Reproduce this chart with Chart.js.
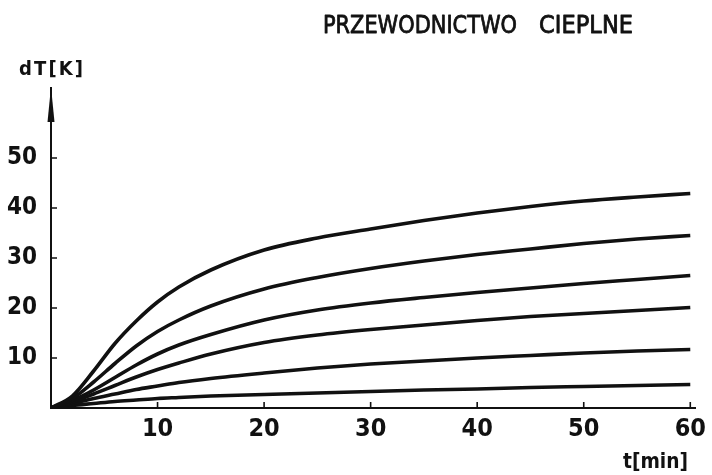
<!DOCTYPE html>
<html>
<head>
<meta charset="utf-8">
<title>Przewodnictwo cieplne</title>
<script src="https://cdn.jsdelivr.net/npm/chart.js@4.4.1/dist/chart.umd.min.js"></script>
<style>
  html, body { margin: 0; padding: 0; background: #fff; }
  canvas { display: block; }
</style>
</head>
<body>
<canvas id="chart" width="712" height="475"></canvas>
<script>
// time axis in minutes, temperature rise dT in K
var timeMin = [0, 2, 4, 6, 8, 10, 12, 15, 20, 25, 30, 35, 40, 45, 50, 55, 60];
var curveA = [0, 2.4, 7.4, 12.9, 17.4, 21.2, 24.2, 27.6, 31.6, 34.0, 35.8, 37.5, 39.0, 40.3, 41.4, 42.2, 42.9];
var curveB = [0, 1.9, 5.2, 8.9, 12.4, 15.3, 17.6, 20.4, 23.8, 26.1, 27.9, 29.4, 30.7, 31.8, 32.9, 33.8, 34.5];
var curveC = [0, 1.5, 3.6, 6.1, 8.6, 10.8, 12.6, 14.7, 17.6, 19.6, 21.0, 22.1, 23.1, 24.0, 24.9, 25.7, 26.5];
var curveD = [0, 1.2, 2.8, 4.5, 6.2, 7.7, 9.0, 10.8, 13.1, 14.6, 15.7, 16.6, 17.5, 18.3, 18.9, 19.5, 20.1];
var curveE = [0, 0.9, 1.9, 2.8, 3.7, 4.4, 5.1, 5.9, 7.0, 8.0, 8.8, 9.4, 10.0, 10.5, 11.0, 11.4, 11.7];
var curveF = [0, 0.5, 0.9, 1.3, 1.6, 1.9, 2.1, 2.4, 2.7, 3.0, 3.3, 3.6, 3.8, 4.1, 4.3, 4.5, 4.7];

var xTicks = [10, 20, 30, 40, 50, 60];
var yTicks = [10, 20, 30, 40, 50];

var ink = '#111';
var family = "'DejaVu Sans Condensed', 'DejaVu Sans', sans-serif";

function toPoints(values) {
	return values.map(function(v, i) { return {x: timeMin[i], y: v}; });
}

//fit a word into the given width: spread it out or squeeze it
function spacedText(ctx, text, left, base, width, thicken) {
	ctx.letterSpacing = '0px';
	var natural = ctx.measureText(text).width;
	var maxW = width;
	if(natural < width) {
		ctx.letterSpacing = ((width - natural) / (text.length - 1)) + 'px';
		maxW = undefined;
	}
	if(thicken) {
		ctx.lineWidth = thicken;
		ctx.lineJoin = 'round';
		maxW ? ctx.strokeText(text, left, base, maxW) : ctx.strokeText(text, left, base);
	}
	maxW ? ctx.fillText(text, left, base, maxW) : ctx.fillText(text, left, base);
	ctx.letterSpacing = '0px';
}

//ticks are drawn pointing into the plot, plus the arrow and lettering
var drawingExtras = {
	id: 'drawingExtras',
	afterDraw: function(chart) {
		var ctx = chart.ctx;
		var area = chart.chartArea;
		var x = chart.scales.x, y = chart.scales.y;
		ctx.save();
		ctx.strokeStyle = ink;
		ctx.fillStyle = ink;
		ctx.lineWidth = 1.6;
		ctx.beginPath();
		x.ticks.forEach(function(t) {
			var px = x.getPixelForValue(t.value);
			ctx.moveTo(px, area.bottom);
			ctx.lineTo(px, area.bottom - 6);
		});
		y.ticks.forEach(function(t) {
			var py = y.getPixelForValue(t.value);
			ctx.moveTo(area.left, py);
			ctx.lineTo(area.left + 6, py);
		});
		ctx.stroke();

		// arrow head on the dT axis
		ctx.beginPath();
		ctx.moveTo(area.left, area.top - 1);
		ctx.lineTo(area.left - 3.5, area.top + 34);
		ctx.lineTo(area.left + 3.5, area.top + 34);
		ctx.closePath();
		ctx.fill();

		ctx.textBaseline = 'alphabetic';
		ctx.textAlign = 'left';
		ctx.font = '25px ' + family;
		spacedText(ctx, 'PRZEWODNICTWO', 323, 33, 194, 0.8);
		spacedText(ctx, 'CIEPLNE', 539, 33, 94, 0.8);

		ctx.font = 'bold 20px ' + family;
		spacedText(ctx, 'dT[K]', 19, 75, 64);

		ctx.font = 'bold 22px ' + family;
		spacedText(ctx, 't[min]', 623, 468, 65);
		ctx.restore();
	}
};

var lineStyle = {
	borderColor: ink,
	borderWidth: 3.6,
	pointRadius: 0,
	fill: false,
	cubicInterpolationMode: 'monotone'
};

var curves = [curveA, curveB, curveC, curveD, curveE, curveF];

var chart = new Chart(document.getElementById('chart'), {
	type: 'line',
	data: {
		datasets: curves.map(function(c) {
			return Object.assign({data: toPoints(c)}, lineStyle);
		})
	},
	options: {
		responsive: false,
		animation: false,
		devicePixelRatio: 1,
		layout: {padding: {top: 88, right: 8, left: 0, bottom: 0}},
		plugins: {legend: {display: false}, tooltip: {enabled: false}},
		scales: {
			x: {
				type: 'linear',
				min: 0,
				max: 60.5,
				afterBuildTicks: function(s) { s.ticks = xTicks.map(function(v) { return {value: v}; }); },
				afterFit: function(s) { s.height = 67; },
				grid: {display: false, drawTicks: false},
				border: {display: true, color: ink, width: 2},
				ticks: {color: ink, padding: 6, maxRotation: 0, font: {family: family, size: 25, weight: 'bold'}}
			},
			y: {
				min: 0,
				max: 64,
				afterBuildTicks: function(s) { s.ticks = yTicks.map(function(v) { return {value: v}; }); },
				afterFit: function(s) { s.width = 51; },
				grid: {display: false, drawTicks: false},
				border: {display: true, color: ink, width: 2},
				ticks: {color: ink, padding: 14, font: {family: family, size: 24, weight: 'bold'}}
			}
		}
	},
	plugins: [drawingExtras]
});
</script>
</body>
</html>
